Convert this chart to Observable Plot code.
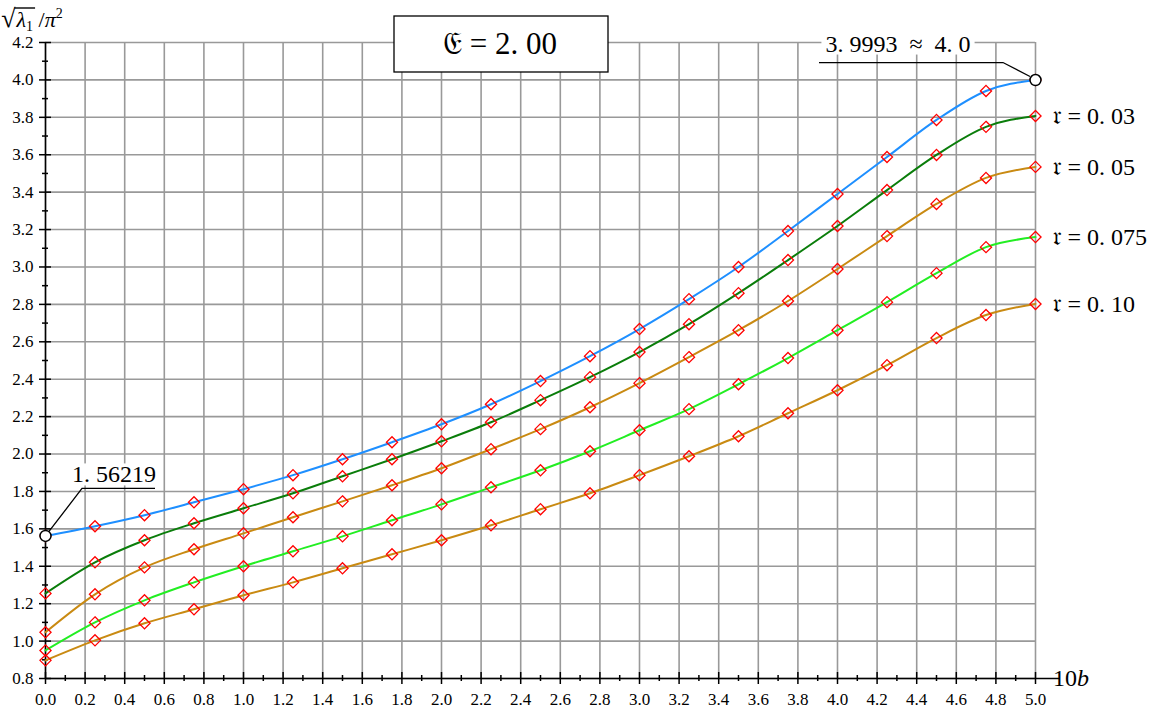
<!DOCTYPE html>
<html><head><meta charset="utf-8">
<script src="https://cdn.jsdelivr.net/npm/d3@7"></script>
<script src="https://cdn.jsdelivr.net/npm/@observablehq/plot@0.6"></script>
<style>body{margin:0;background:#fff} svg{display:block}</style>
</head><body><div id="chart"></div>
<script>
// 10b values where the curves were sampled
const b = [0, 0.25, 0.5, 0.75, 1.0, 1.25, 1.5, 1.75, 2.0, 2.25, 2.5, 2.75, 3.0, 3.25, 3.5, 3.75, 4.0, 4.25, 4.5, 4.75, 5.0];
// sqrt(lambda_1)/pi^2 for each r
const rZero  = [1.56219, 1.614, 1.673, 1.742, 1.812, 1.887, 1.972, 2.063, 2.159, 2.266, 2.390, 2.523, 2.668, 2.828, 3.000, 3.192, 3.390, 3.588, 3.786, 3.941, 3.9993];
const r003   = [1.255, 1.421, 1.539, 1.630, 1.710, 1.790, 1.881, 1.972, 2.068, 2.170, 2.288, 2.411, 2.545, 2.694, 2.860, 3.037, 3.219, 3.411, 3.599, 3.749, 3.807];
const r005   = [1.047, 1.250, 1.394, 1.491, 1.576, 1.662, 1.747, 1.833, 1.924, 2.026, 2.133, 2.250, 2.379, 2.518, 2.662, 2.818, 2.989, 3.165, 3.337, 3.476, 3.535];
const r0075  = [0.950, 1.100, 1.218, 1.314, 1.400, 1.480, 1.560, 1.646, 1.731, 1.822, 1.913, 2.015, 2.127, 2.240, 2.373, 2.513, 2.662, 2.812, 2.967, 3.106, 3.160];
const r010   = [0.897, 1.004, 1.095, 1.170, 1.245, 1.314, 1.389, 1.464, 1.539, 1.619, 1.705, 1.790, 1.887, 1.988, 2.095, 2.218, 2.341, 2.475, 2.620, 2.743, 2.802];

const seriesNames  = ["0", "0.03", "0.05", "0.075", "0.10"];
const seriesLabels = [null, "\u{1D52F} = 0. 03", "\u{1D52F} = 0. 05", "\u{1D52F} = 0. 075", "\u{1D52F} = 0. 10"];
const seriesValues = [rZero, r003, r005, r0075, r010];
const seriesColors = ["#1E8FFF", "#0A7D0A", "#C98A12", "#22EE22", "#C98A12"];

const xMajor = [0,0.2,0.4,0.6,0.8,1.0,1.2,1.4,1.6,1.8,2.0,2.2,2.4,2.6,2.8,3.0,3.2,3.4,3.6,3.8,4.0,4.2,4.4,4.6,4.8,5.0];
const xMinor = [0.1,0.3,0.5,0.7,0.9,1.1,1.3,1.5,1.7,1.9,2.1,2.3,2.5,2.7,2.9,3.1,3.3,3.5,3.7,3.9,4.1,4.3,4.5,4.7,4.9];
const yMajor = [0.8,1.0,1.2,1.4,1.6,1.8,2.0,2.2,2.4,2.6,2.8,3.0,3.2,3.4,3.6,3.8,4.0,4.2];
const yMinor = [0.9,1.1,1.3,1.5,1.7,1.9,2.1,2.3,2.5,2.7,2.9,3.1,3.3,3.5,3.7,3.9,4.1];

const titleText = "\u{1D508} = 2. 00";
const leftNote = "1. 56219";
const rightNote = "3. 9993  \u2248  4. 0";

const data = seriesNames.flatMap((name, k) => b.map((x, i) => ({x, y: seriesValues[k][i], s: name, color: seriesColors[k]})));
const labelData = seriesNames.map((name, k) => ({x: b[b.length-1], y: seriesValues[k][b.length-1], label: seriesLabels[k]})).filter(d => d.label);
const circled = [{x: b[0], y: rZero[0]}, {x: b[b.length-1], y: rZero[rZero.length-1]}];

const W = 1153, H = 714;
const serif = "'Liberation Serif', 'Times New Roman', Tinos, Times, serif";
const pxX = 1/198, pxY = 1/186.9;

const plot = Plot.plot({
  width: W, height: H,
  marginLeft: 45, marginRight: 118, marginTop: 42, marginBottom: 36,
  x: {domain: [0, 5]},
  y: {domain: [0.8, 4.2]},
  color: {type: "identity"},
  style: {fontFamily: serif, fontSize: "17px", color: "#000", background: "#fff", overflow: "visible"},
  marks: [
    Plot.gridX(xMajor, {stroke: "#999", strokeOpacity: 1, strokeWidth: 1.6}),
    Plot.gridY(yMajor, {stroke: "#999", strokeOpacity: 1, strokeWidth: 1.6}),
    Plot.axisX(xMajor, {tickSize: 0, tickPadding: 14, tickFormat: d3.format(".1f"), fontSize: 17, label: null, fontFamily: serif}),
    Plot.axisY(yMajor, {tickSize: 0, tickPadding: 12, tickFormat: d3.format(".1f"), fontSize: 17, label: null, fontFamily: serif}),
    Plot.ruleY([0.8], {x1: 0, x2: 5 + 25*pxX, stroke: "#000", strokeWidth: 1.5}),
    Plot.ruleX([0], {y1: 0.8, y2: 4.2, stroke: "#000", strokeWidth: 1.5}),
    Plot.ruleX(xMajor, {x: d => d, y1: 0.8 - 6*pxY, y2: 0.8 + 6*pxY, stroke: "#000", strokeWidth: 1.5}),
    Plot.ruleX(xMinor, {x: d => d, y1: 0.8 - 3*pxY, y2: 0.8 + 3*pxY, stroke: "#000", strokeWidth: 1.5}),
    Plot.ruleY(yMajor, {y: d => d, x1: -6*pxX, x2: 6*pxX, stroke: "#000", strokeWidth: 1.5}),
    Plot.ruleY(yMinor, {y: d => d, x1: -3*pxX, x2: 3*pxX, stroke: "#000", strokeWidth: 1.5}),
    Plot.line(data, {x: "x", y: "y", z: "s", stroke: "color", strokeWidth: 2, curve: "monotone-x"}),
    Plot.dot(data, {x: "x", y: "y", symbol: "diamond2", r: 5, stroke: "#FF0000", fill: "none", strokeWidth: 1.3}),
    Plot.dot(circled, {x: "x", y: "y", r: 5.5, fill: "white", stroke: "black", strokeWidth: 1.5}),
    Plot.text(labelData, {x: "x", y: "y", text: "label", dx: 17, textAnchor: "start", fontSize: 24, fill: "#000", fontFamily: serif})
  ]
});
document.getElementById("chart").appendChild(plot);

const sx = plot.scale("x"), sy = plot.scale("y");
const svg = d3.select(plot);

function boxedText(x, y, txt, size, anchor) {
  const g = svg.append("g");
  const t = g.append("text").attr("x", x).attr("y", y).attr("font-size", size)
    .attr("font-family", serif).attr("text-anchor", anchor).attr("fill", "#000")
    .style("white-space", "pre").text(txt);
  const bb = t.node().getBBox();
  g.insert("rect", "text").attr("x", bb.x - 4).attr("y", bb.y + 2).attr("width", bb.width + 8).attr("height", bb.height - 4).attr("fill", "#fff");
  return g;
}

// left callout
{
  const cx = sx.apply(b[0]), cy = sy.apply(rZero[0]);
  boxedText(cx + 69, cy - 53, leftNote, 24, "middle");
  svg.append("polyline").attr("points", `${cx+4},${cy-4} ${cx+37},${cy-47} ${cx+110},${cy-47}`)
    .attr("fill", "none").attr("stroke", "#000").attr("stroke-width", 1.3);
}
// right callout
{
  const cx = sx.apply(b[b.length-1]), cy = sy.apply(rZero[rZero.length-1]);
  boxedText(cx - 137, cy - 28, rightNote, 24, "middle");
  svg.append("polyline").attr("points", `${cx-5},${cy-3} ${cx-32},${cy-17} ${cx-216},${cy-17}`)
    .attr("fill", "none").attr("stroke", "#000").attr("stroke-width", 1.3);
}
// title box
{
  const g = svg.append("g");
  g.append("rect").attr("x", 394).attr("y", 16).attr("width", 214).attr("height", 56)
    .attr("fill", "#fff").attr("stroke", "#000").attr("stroke-width", 1.3);
  g.append("text").attr("x", 500).attr("y", 54).attr("font-size", 31).attr("font-family", serif)
    .attr("text-anchor", "middle").attr("fill", "#000").style("white-space", "pre").text(titleText);
}
// y label
{
  const t = svg.append("text").attr("x", 32).attr("y", 27).attr("font-size", 22).attr("font-family", serif).attr("fill", "#000");
  t.append("tspan").attr("font-size", 26).text("\u221A");
  t.append("tspan").attr("font-style", "italic").attr("dx", 1).text("\u03BB");
  t.append("tspan").attr("font-size", 14).attr("dy", 4).text("1");
  t.append("tspan").attr("dy", -4).style("white-space", "pre").text(" /");
  t.append("tspan").attr("font-style", "italic").text("\u03C0");
  t.append("tspan").attr("font-size", 14).attr("dy", -9).text("2");
  const n = t.node();
  const x0 = n.getEndPositionOfChar(0).x, x1 = n.getEndPositionOfChar(2).x;
  const bb0 = n.getExtentOfChar(0);
  svg.append("line").attr("x1", x0 - 1).attr("x2", x1 + 2).attr("y1", bb0.y + 4).attr("y2", bb0.y + 4).attr("stroke", "#000").attr("stroke-width", 1.4);
}
// x label
{
  const t = svg.append("text").attr("x", 1071).attr("y", 686).attr("font-size", 24).attr("font-family", serif).attr("fill", "#000");
  t.append("tspan").text("10");
  t.append("tspan").attr("font-style", "italic").text("b");
}
</script>
</body></html>
